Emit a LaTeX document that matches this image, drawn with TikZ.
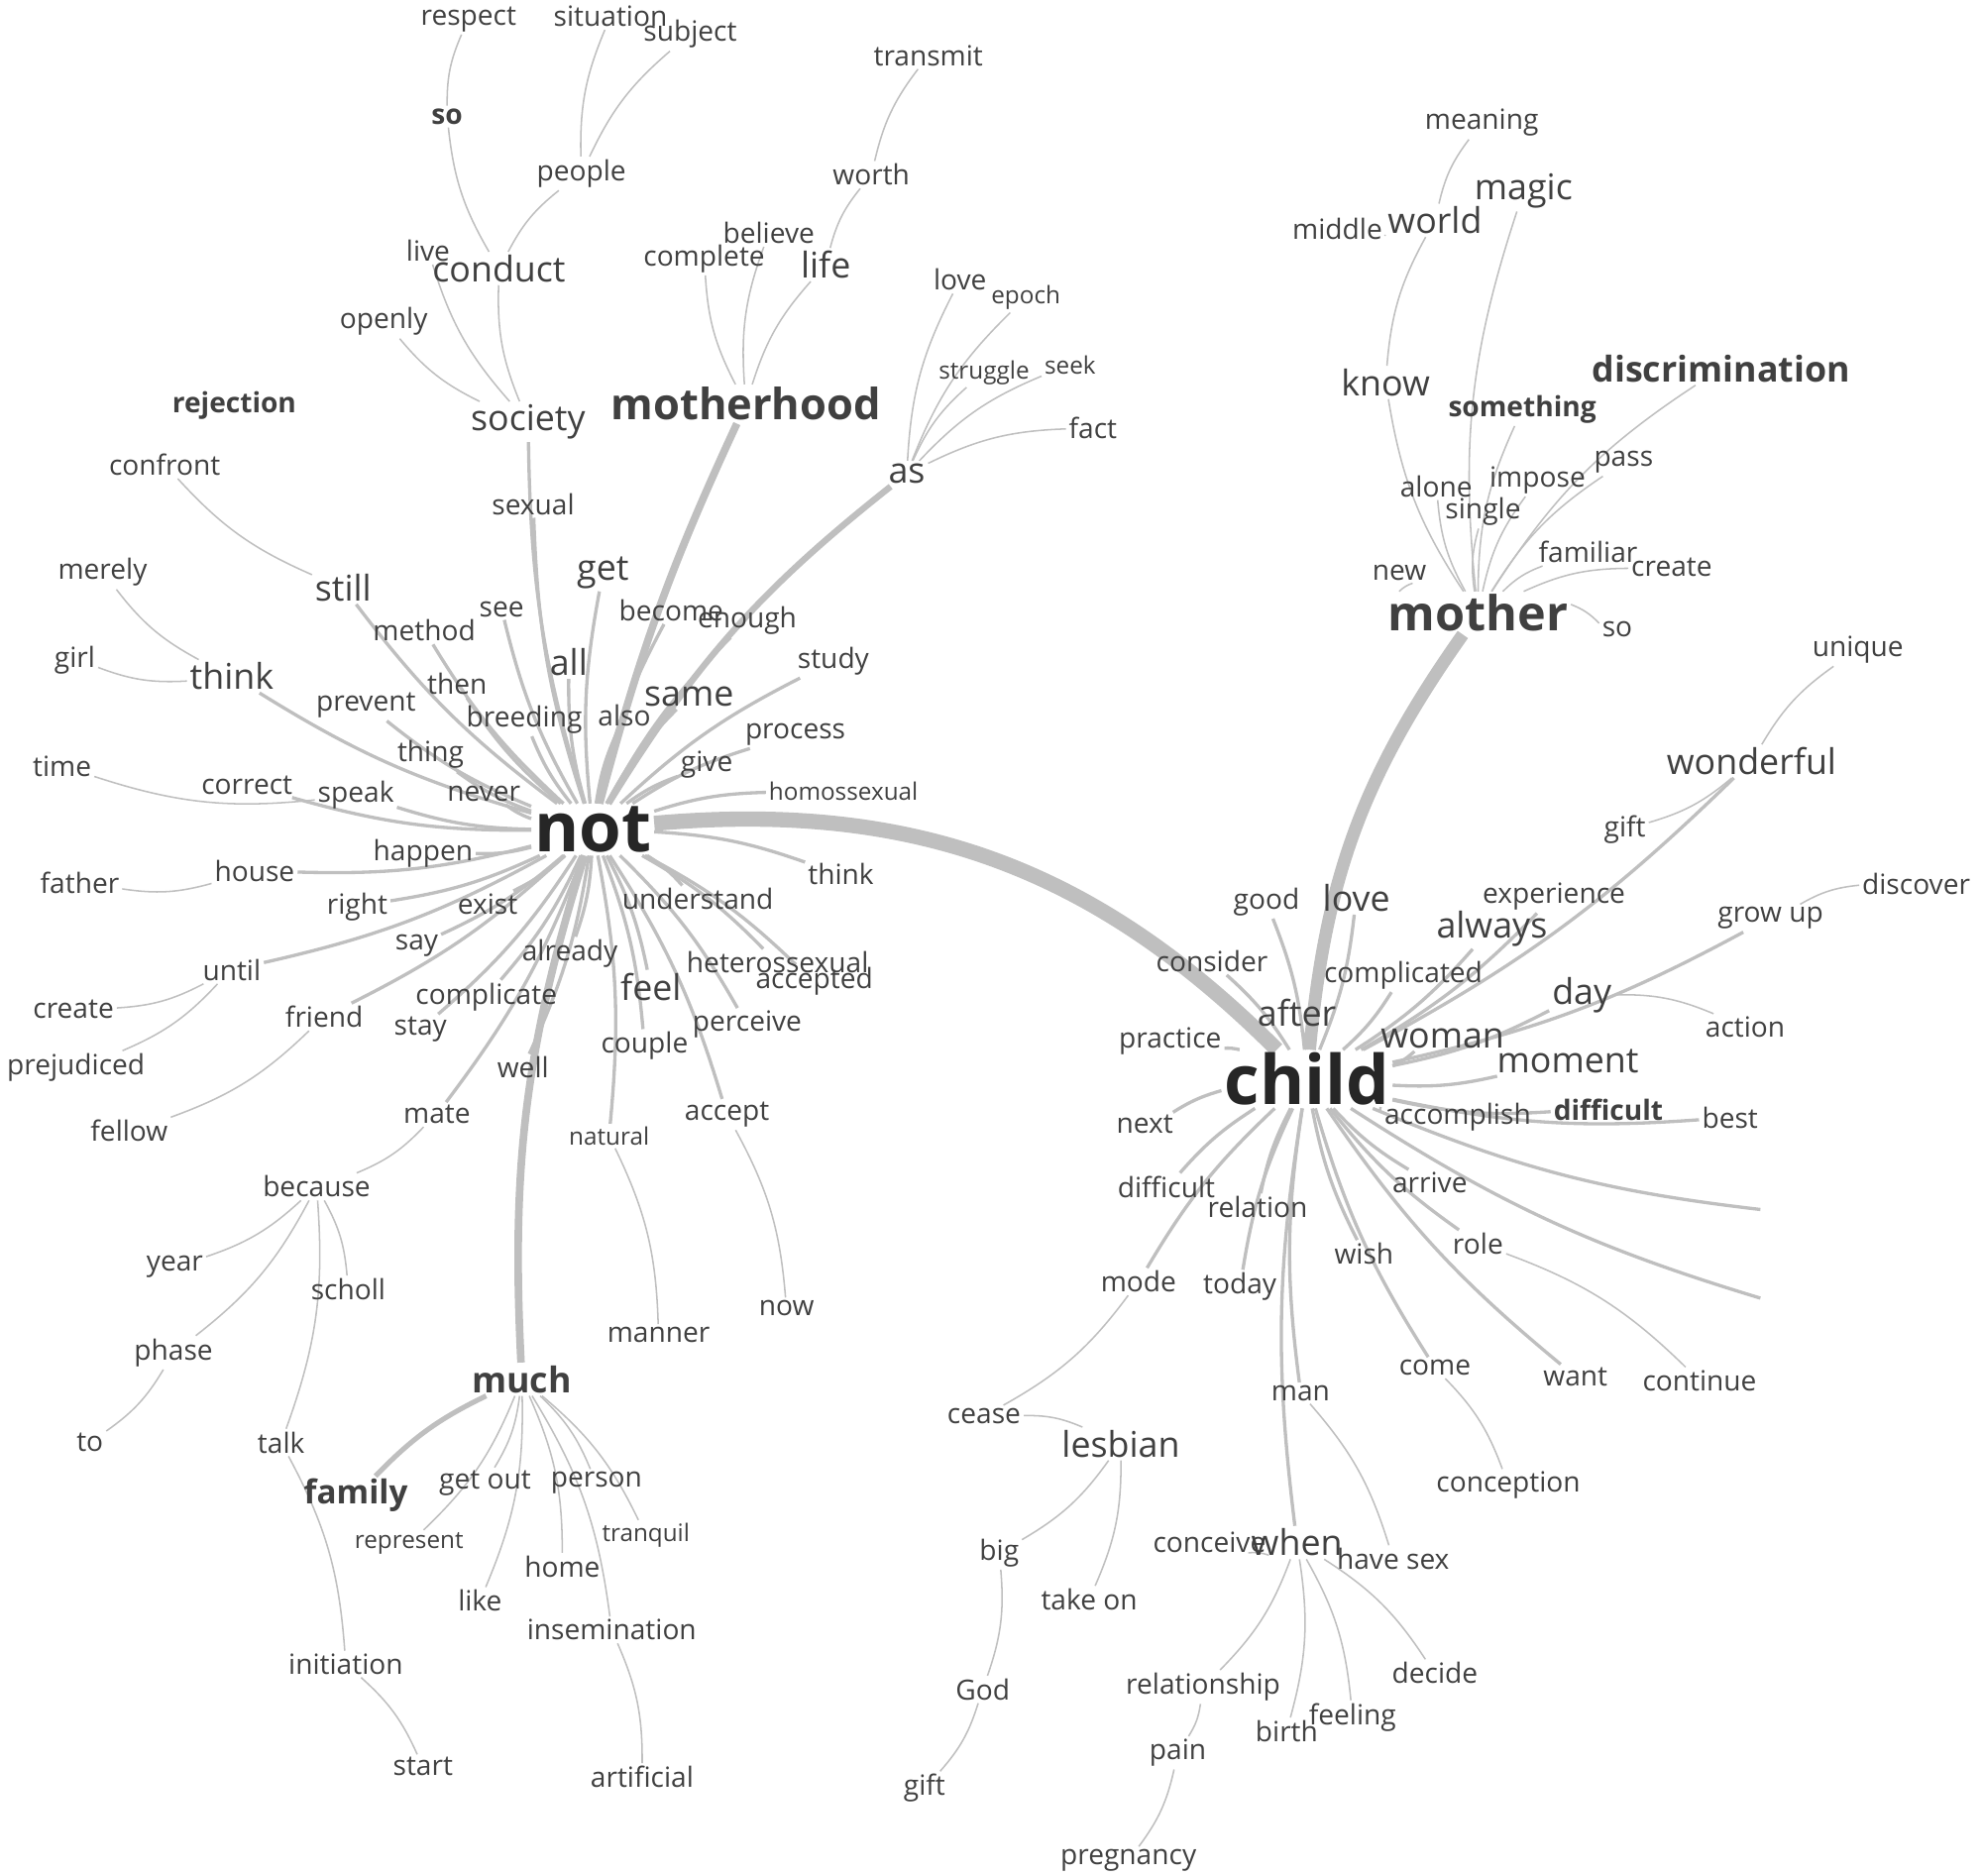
\documentclass[tikz,border=0pt]{standalone}
\usepackage{fontspec}
\setmainfont{Open Sans}
\usetikzlibrary{backgrounds}
\tikzset{
    word/.style={inner sep=1pt, text=black!75, font=\fontsize{11}{12}\selectfont},
    small/.style={word, font=\fontsize{9.5}{11}\selectfont},
    big/.style={word, font=\fontsize{14}{16}\selectfont},
    key/.style={word, font=\bfseries\fontsize{11}{12}\selectfont},
    bigkey/.style={word, font=\bfseries\fontsize{17}{19}\selectfont},
    hub/.style={word, text=black!85, font=\bfseries\fontsize{27}{30}\selectfont},
    br/.style={draw=black!25, line width=0.6pt},
}
\begin{document}
\begin{tikzpicture}[x=0.5pt, y=-0.5pt]
    \useasboundingbox (0,0) rectangle (1565,1481);
    % hubs
    \node[hub] (not) at (468,655) {not};
    \node[hub] (child) at (1032,852) {child};
    \node[bigkey, font=\bfseries\fontsize{19}{21}\selectfont] (mother) at (1167,484) {mother};
    \node[bigkey] (motherhood) at (589,319) {motherhood};
    % regular words
    \foreach \n/\x/\y/\t in {respect/370/15/respect, situation/482/13/situation, subject/545/27/subject,
        transmit/733/44/transmit, people/459/137/people, worth/688/138/worth, believe/607/184/believe,
        complete/556/204/complete, live/338/198/live, love/758/221/love, openly/303/254/openly,
        fact/863/338/fact, confront/130/367/confront, sexual/421/398/sexual, merely/81/452/merely,
        see/396/481/see, method/335/498/method, become/530/482/become, enough/590/490/enough,
        girl/59/521/girl, then/361/540/then, study/658/522/study, prevent/289/557/prevent,
        breeding/414/568/breeding, also/493/565/also, time/49/605/time, thing/340/596/thing,
        process/628/580/process, give/558/604/give, correct/195/620/correct, speak/281/628/speak,
        never/382/627/never, father/63/697/father, house/201/688/house, happen/334/674/happen,
        thinkb/664/690/think, right/282/716/right, exist/385/714/exist, understand/551/710/understand,
        say/329/747/say, already/450/753/already, heterossexual/614/760/heterossexual,
        accepted/643/775/accepted, until/183/766/until, create/58/797/create, complicate/384/787/complicate,
        friend/256/803/friend, stay/332/813/stay, perceive/590/809/perceive, couple/509/826/couple,
        prejudiced/60/843/prejudiced, well/413/843/well, mate/345/880/mate, accept/574/880/accept,
        fellow/102/893/fellow, because/250/937/because, year/138/1000/year, scholl/275/1018/scholl,
        now/621/1033/now, manner/520/1054/manner, phase/137/1068/phase, to/71/1139/to, talk/222/1139/talk,
        getout/383/1171/get out, person/471/1171/person, home/444/1237/home, like/379/1264/like,
        insemination/483/1287/insemination, initiation/273/1314/initiation, start/334/1395/start,
        artificial/507/1403/artificial,
        meaning/1170/97/meaning, middle/1056/181/middle, pass/1282/365/pass, alone/1134/384/alone,
        impose/1214/379/impose, single/1171/404/single, familiar/1254/436/familiar, createb/1320/448/create,
        new/1105/452/new, sob/1277/497/so, unique/1467/513/unique, gift/1283/655/gift, discover/1513/698/discover,
        good/1000/712/good, experience/1227/708/experience, growup/1398/725/grow up, consider/957/759/consider,
        complicated/1108/770/complicated, action/1378/811/action, practice/924/822/practice, next/904/888/next,
        accomplish/1151/882/accomplish, best/1366/883/best, difficultb/921/937/difficult, relation/993/953/relation,
        arrive/1129/934/arrive, role/1167/982/role, wish/1077/990/wish, mode/899/1012/mode, today/979/1016/today,
        come/1133/1080/come, want/1244/1087/want, continue/1342/1090/continue, cease/777/1118/cease,
        man/1027/1100/man, conception/1191/1173/conception, big/789/1226/big, conceive/955/1218/conceive,
        havesex/1100/1231/have sex, takeon/860/1263/take on, God/776/1334/God, relationship/950/1332/relationship,
        decide/1133/1321/decide, feeling/1068/1356/feeling, birth/1016/1367/birth, pain/930/1384/pain,
        giftb/730/1412/gift, pregnancy/891/1469/pregnancy}
        \node[word] (\n) at (\x,\y) {\t};
    % small words
    \foreach \n/\x/\y/\t in {epoch/810/235/epoch, struggle/777/294/struggle, seek/845/288/seek,
        homossexual/666/625/homossexual, natural/481/897/natural, tranquil/510/1212/tranquil,
        represent/323/1219/represent}
        \node[small] (\n) at (\x,\y) {\t};
    % larger words
    \foreach \n/\x/\y/\t in {life/652/209/life, conduct/394/212/conduct, society/417/333/society,
        as/716/374/as, get/476/452/get, still/271/464/still, think/183/534/think, all/449/523/all,
        same/544/550/same, feel/514/779/feel, magic/1203/151/magic, world/1133/174/world, know/1094/302/know,
        wonderful/1383/601/wonderful, loveb/1071/709/love, always/1178/733/always, day/1249/786/day,
        after/1024/800/after, woman/1139/820/woman, moment/1238/838/moment, lesbian/885/1140/lesbian,
        when/1024/1218/when}
        \node[big] (\n) at (\x,\y) {\t};
    % bold words
    \foreach \n/\x/\y/\t in {so/353/92/so, rejection/185/320/rejection, something/1202/323/something,
        difficult/1270/876/difficult}
        \node[key] (\n) at (\x,\y) {\t};
    \node[key, font=\bfseries\fontsize{14}{16}\selectfont] (much) at (412,1089) {much};
    \node[key, font=\bfseries\fontsize{13}{15}\selectfont] (family) at (281,1181) {family};
    \node[key, font=\bfseries\fontsize{14}{16}\selectfont] (discrimination) at (1359,291) {discrimination};
    \coordinate (endA) at (1390,955);
    \coordinate (endB) at (1390,1025);
    \begin{pgfonlayer}{background}
        \draw[br, line width=6pt] (not) to[bend left=25] (child);
        \draw[br, line width=5pt] (child) to[bend left=15] (mother);
        \draw[br, line width=3pt] (not) to[bend right=10] (much);
        \draw[br, line width=3pt] (not) to[bend left=5] (motherhood);
        \draw[br, line width=2.5pt] (not) to[bend left=10] (as);
        \foreach \a/\b in {society/conduct, conduct/so, so/respect, conduct/people, people/situation,
            people/subject, society/openly, society/live, motherhood/complete, motherhood/believe,
            motherhood/life, life/worth, worth/transmit, as/love, as/struggle, as/seek, as/fact, as/epoch,
            still/confront, think/merely, think/girl, speak/time, house/father, until/create, until/prejudiced,
            friend/fellow, mate/because, because/year, because/phase, phase/to, because/scholl, because/talk,
            talk/initiation, initiation/start, much/getout, much/person, much/represent, much/home,
            much/like, much/tranquil, much/insemination, insemination/artificial, accept/now, natural/manner,
            mother/know, know/world, world/meaning, world/middle, mother/magic, mother/something,
            mother/discrimination, mother/pass, mother/alone, mother/impose, mother/single, mother/familiar,
            mother/createb, mother/new, mother/sob, wonderful/unique, wonderful/gift, growup/discover,
            day/action, mode/cease, cease/lesbian, lesbian/big, big/God, God/giftb, lesbian/takeon,
            man/havesex, come/conception, when/conceive, when/relationship, relationship/pain,
            pain/pregnancy, when/birth, when/feeling, when/decide, role/continue}
            \draw[br] (\a) to[bend left=12] (\b);
        \draw[br, line width=2pt] (much) to[bend right=10] (family);
        \foreach \b in {society, sexual, get, see, method, become, enough, all, then, study, prevent,
            breeding, also, same, thing, process, give, correct, never, homossexual, happen, thinkb,
            right, exist, understand, say, already, heterossexual, accepted, feel, complicate, stay,
            perceive, couple, well, still, think, speak, house, until, friend, mate, accept, natural}
            \draw[br, line width=1.3pt] (not) to[bend left=8] (\b);
        \foreach \b in {wonderful, growup, day, good, loveb, experience, always, consider, complicated,
            after, practice, woman, moment, next, accomplish, difficult, best, difficultb, relation,
            arrive, role, wish, mode, today, come, want, man, when, endA, endB}
            \draw[br, line width=1.3pt] (child) to[bend right=8] (\b);
    \end{pgfonlayer}
\end{tikzpicture}
\end{document}
